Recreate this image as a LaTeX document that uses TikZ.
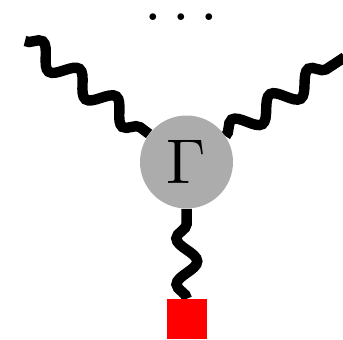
\documentclass[tikz,border=0pt]{standalone}
\usepackage{graphicx}
\usepackage{tikz}
\usetikzlibrary{positioning}
\usetikzlibrary{decorations.pathmorphing}
\usetikzlibrary{backgrounds}

\newcommand{\bigsym}[1]{\scalebox{4.5}{#1}}

\begin{document}
\begin{tikzpicture}[
  vertex/.style={
    circle,
    fill=gray!65,
    minimum size=2.325cm,
    inner sep=0pt
  },
  source/.style={
    rectangle,
    fill=red,
    minimum size=1cm,
    inner sep=0pt
  },
  photon/.style={
    line width=7.4pt,
    decorate,
    decoration={snake, segment length=1.15cm, amplitude=0.26cm}
  }
]
\useasboundingbox (-4.6625,-4.425) rectangle (3.9125,4.05);
\node[vertex] (gam) at (0, 0) {\bigsym{$\Gamma$}};
\node[source] (src) at (0.0125, -3.925) {};
\coordinate (lft) at (-4.0375, 3.025);
\coordinate (rgt) at (3.95, 2.62);
\node[inner sep=0pt] (dots) at (-0.12, 3.6175) {\bigsym{$\ldots$}};
% external legs sit behind the vertex
\begin{pgfonlayer}{background}
\draw[photon] (lft) -- (gam);
\draw[photon] (gam) -- (rgt);
\draw[photon] (src) -- (gam);
\end{pgfonlayer}
\end{tikzpicture}
\end{document}
